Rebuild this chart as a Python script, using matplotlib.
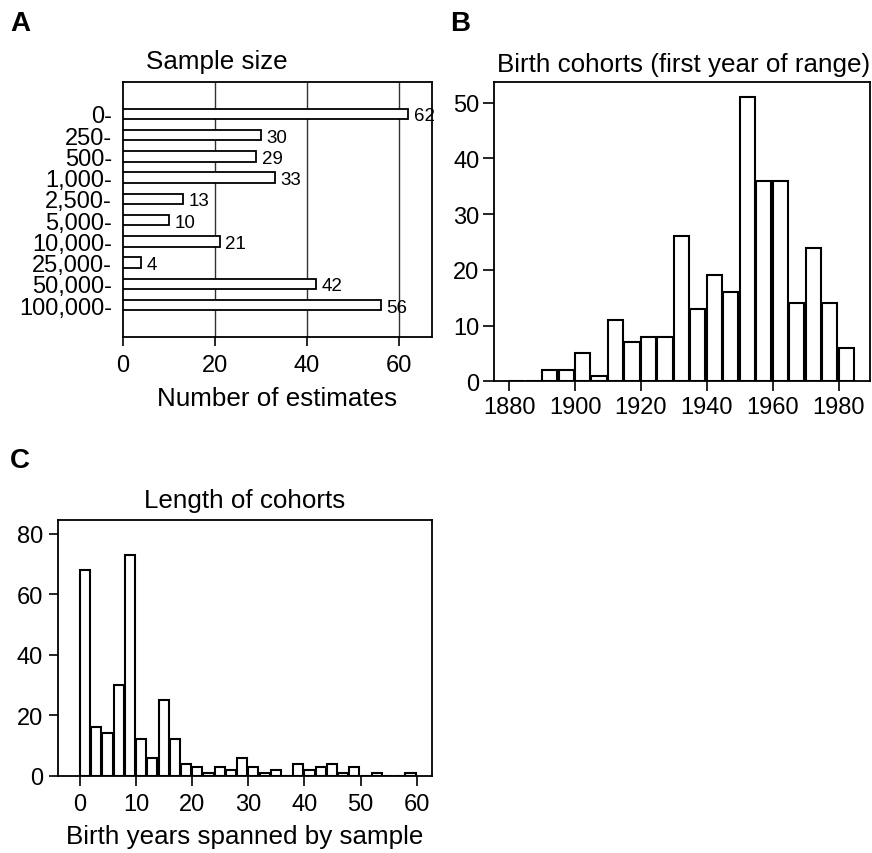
import matplotlib
matplotlib.use('Agg')
import matplotlib.pyplot as plt

plt.rcParams['font.family'] = ['Liberation Sans', 'DejaVu Sans']

# Panel A: sample size classes
size_classes = ['0-', '250-', '500-', '1,000-', '2,500-', '5,000-',
                '10,000-', '25,000-', '50,000-', '100,000-']
size_counts = [62, 30, 29, 33, 13, 10, 21, 4, 42, 56]

# Panel B: birth cohorts, first year of 5-year bins
cohort_starts = [1880, 1885, 1890, 1895, 1900, 1905, 1910, 1915, 1920, 1925, 1930,
                 1935, 1940, 1945, 1950, 1955, 1960, 1965, 1970, 1975, 1980]
cohort_counts = [0, 0, 2, 2, 5, 1, 11, 7, 8, 8, 26,
                 13, 19, 16, 51, 36, 36, 14, 24, 14, 6]

# Panel C: length of cohorts, 2-year bins
length_starts = [0, 2, 4, 6, 8, 10, 12, 14, 16, 18, 20, 22, 24, 26, 28,
                 30, 32, 34, 36, 38, 40, 42, 44, 46, 48, 50, 52, 54, 56, 58]
length_counts = [68, 16, 14, 30, 73, 12, 6, 25, 12, 4, 3, 1, 3, 2, 6,
                 3, 1, 2, 0, 4, 2, 3, 4, 1, 3, 0, 1, 0, 0, 1]

W, H = 872, 854
fig = plt.figure(figsize=(W / 100, H / 100), dpi=100)

TICK_FS = 17      # tick labels
LAB_FS = 18.7     # titles and axis labels


def px_axes(l, t, r, b):
    return fig.add_axes([l / W, 1 - b / H, (r - l) / W, (b - t) / H])


def px_text(x, y, s, **kw):
    return fig.text(x / W, 1 - y / H, s, **kw)


def style(ax):
    for sp in ax.spines.values():
        sp.set_linewidth(1.3)
    ax.tick_params(labelsize=TICK_FS, width=1.2)


# ---- A
axA = px_axes(123, 83, 432, 338)
ypos = list(range(len(size_classes)))
axA.barh(ypos, size_counts, height=0.5, color='white', edgecolor='black',
         linewidth=1.3, zorder=3)
for g in [20, 40, 60]:
    axA.axvline(g, color='#333333', lw=1.0, zorder=1)
for y, v in zip(ypos, size_counts):
    axA.text(v + 1.2, y, str(v), ha='left', va='center_baseline',
             fontsize=13.5, clip_on=False, zorder=4)
axA.set_ylim(10.5, -1.5)
axA.set_xlim(0, 67.2)
axA.set_yticks(ypos)
axA.set_yticklabels(size_classes)
axA.set_xticks([0, 20, 40, 60])
style(axA)
axA.tick_params(axis='y', length=0, pad=8)
axA.tick_params(axis='x', length=6.5, pad=5.5)

# ---- B
axB = px_axes(494, 83, 869.5, 382.3)
axB.bar(cohort_starts, cohort_counts, width=4.6, align='edge', color='white',
        edgecolor='black', linewidth=1.5)
axB.set_xlim(1875.4, 1989.4)
axB.set_ylim(0, 53.7)
axB.set_xticks([1880, 1900, 1920, 1940, 1960, 1980])
axB.set_yticks([0, 10, 20, 30, 40, 50])
style(axB)
axB.tick_params(axis='x', length=7, pad=3.4)
axB.tick_params(axis='y', length=8, pad=2.5)

# ---- C
axC = px_axes(58.3, 520.7, 431.7, 776.7)
axC.bar(length_starts, length_counts, width=1.8, align='edge', color='white',
        edgecolor='black', linewidth=1.5)
axC.set_xlim(-3.86, 62.67)
axC.set_ylim(0, 84.7)
axC.set_xticks([0, 10, 20, 30, 40, 50, 60])
axC.set_yticks([0, 20, 40, 60, 80])
style(axC)
axC.tick_params(axis='x', length=7, pad=5.8)
axC.tick_params(axis='y', length=6.5, pad=4.6)

# titles and labels
px_text(217, 69, 'Sample size', ha='center', va='baseline', fontsize=LAB_FS)
px_text(684, 72, 'Birth cohorts (first year of range)', ha='center',
        va='baseline', fontsize=LAB_FS)
px_text(245, 508.3, 'Length of cohorts', ha='center', va='baseline',
        fontsize=LAB_FS)
px_text(277.5, 406, 'Number of estimates', ha='center', va='baseline',
        fontsize=LAB_FS)
px_text(245, 844, 'Birth years spanned by sample', ha='center', va='baseline',
        fontsize=LAB_FS)

# panel letters
px_text(10, 31, 'A', fontsize=20, fontweight='bold', va='baseline')
px_text(450, 31, 'B', fontsize=20, fontweight='bold', va='baseline')
px_text(10, 468, 'C', fontsize=20, fontweight='bold', va='baseline')

fig.savefig('out.png', dpi=100)
